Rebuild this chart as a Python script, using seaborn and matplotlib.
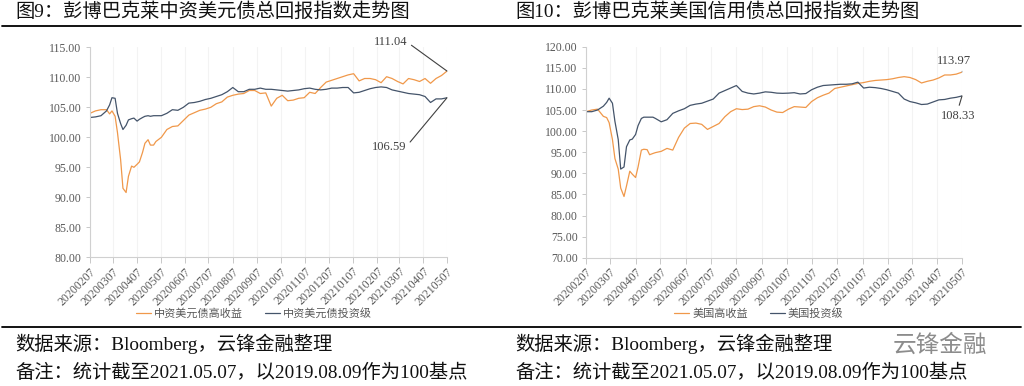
import matplotlib
matplotlib.use("Agg")
import matplotlib.pyplot as plt
import matplotlib.dates as mdates
from matplotlib.lines import Line2D
import seaborn as sns
import pandas as pd

# ---------------- data ----------------
weekly = pd.date_range("2020-02-07", "2021-05-07", freq="7D")
extra = pd.date_range("2020-03-03", "2020-04-28", freq="7D")
dates = weekly.union(extra)

cn_hy = [104.0, 104.4, 104.6, 104.6, 103.9, 104.4, 103.5, 100.8, 96.3, 91.5, 90.8, 93.5,
         95.2, 95.0, 95.5, 95.9, 97.5, 99.0, 99.6, 98.7, 98.7, 99.3,
         100.0, 101.3, 101.8, 101.9, 102.8, 103.7, 104.1, 104.5, 104.7, 105.0,
         105.6, 105.9, 106.7, 107.0, 107.2, 107.3, 107.8, 107.8, 107.3, 107.4,
         105.2, 106.5, 107.0, 106.1, 106.2, 106.5, 106.6, 107.5, 107.3, 108.3,
         109.2, 109.5, 109.8, 110.1, 110.4, 110.6, 109.4, 109.8, 109.8, 109.6,
         109.1, 110.1, 109.8, 109.3, 108.9, 109.8, 109.6, 109.3, 109.8, 109.0,
         109.8, 110.3, 111.04]
cn_ig = [103.3, 103.4, 103.6, 104.4, 105.4, 106.6, 106.5, 104.0, 102.3, 101.3, 102.0, 102.9,
         103.1, 103.2, 102.7, 103.0, 103.3, 103.5, 103.6, 103.5, 103.6, 103.6,
         103.6, 104.0, 104.6, 104.5, 105.0, 105.7, 105.8, 106.0, 106.3, 106.5,
         106.8, 107.1, 107.6, 108.3, 107.6, 107.6, 108.0, 108.0, 108.2, 108.0,
         108.0, 107.9, 107.8, 107.7, 107.8, 107.9, 108.1, 108.2, 108.0, 107.9,
         108.0, 108.2, 108.2, 108.3, 108.3, 107.4, 107.5, 107.8, 108.1, 108.3,
         108.4, 108.3, 107.9, 107.7, 107.5, 107.3, 107.2, 107.1, 106.8, 105.8,
         106.4, 106.4, 106.59]
us_hy = [104.6, 105.0, 105.2, 103.5, 103.2, 102.0, 98.0, 93.5, 91.0, 86.5, 84.5, 87.0,
         90.5, 89.8, 89.0, 91.5, 95.5, 95.7, 95.6, 94.4, 94.7, 94.9,
         95.2, 95.9, 95.5, 98.5, 100.7, 101.8, 101.9, 101.6, 100.4, 101.1,
         101.8, 103.4, 104.6, 105.3, 105.1, 105.2, 105.8, 106.0, 105.7, 105.0,
         104.5, 104.4, 105.2, 105.8, 105.7, 105.6, 107.0, 107.9, 108.5, 109.0,
         110.1, 110.4, 110.7, 111.0, 111.3, 111.5, 111.8, 112.0, 112.1, 112.2,
         112.4, 112.7, 112.9, 112.7, 112.2, 111.4, 111.8, 112.1, 112.6, 113.3,
         113.3, 113.5, 113.97]
us_ig = [104.6, 104.6, 105.0, 105.9, 106.8, 107.8, 106.6, 102.3, 98.0, 91.0, 91.5, 96.3,
         97.9, 98.1, 99.2, 101.3, 103.0, 103.3, 103.3, 103.3, 103.3, 103.0,
         102.2, 102.7, 104.2, 104.8, 105.3, 106.1, 106.4, 106.6, 107.1, 107.6,
         109.0, 109.6, 110.2, 110.8, 109.4, 109.0, 108.8, 109.0, 109.3, 109.2,
         109.0, 108.95, 109.0, 109.1, 108.8, 108.9, 109.8, 110.4, 110.8, 110.9,
         111.0, 111.1, 111.1, 111.2, 111.6, 110.2, 110.4, 110.3, 110.1, 109.8,
         109.4, 109.0, 107.6, 107.0, 106.7, 106.3, 106.4, 106.9, 107.4, 107.5,
         107.8, 108.0, 108.33]

left_names = ["中资美元债高收益", "中资美元债投资级"]
right_names = ["美国高收益", "美国投资级"]
left_title = "图9：彭博巴克莱中资美元债总回报指数走势图"
right_title = "图10：彭博巴克莱美国信用债总回报指数走势图"
source_text = "数据来源：Bloomberg，云锋金融整理"
note_text = "备注：统计截至2021.05.07，以2019.08.09作为100基点"
tick_dates = pd.date_range("2020-02-01", "2021-05-07", freq="MS") + pd.Timedelta(days=6)

ORANGE = "#F0984A"
BLUE = "#44546A"

# ---------------- style ----------------
sns.set_theme(style="white")
plt.rcParams["font.family"] = ["Liberation Serif", "Noto Sans CJK SC"]
plt.rcParams["axes.unicode_minus"] = False

fig = plt.figure(figsize=(10.24, 3.86), dpi=100)
W, H = 1024, 386


def fx(px):
    return px / W


def fy(py):
    return 1 - py / H


ax1 = fig.add_axes([fx(90), fy(257.3), fx(447) - fx(90), fy(47.3) - fy(257.3)])
ax2 = fig.add_axes([fx(586), fy(257.7), fx(962) - fx(586), fy(46.7) - fy(257.7)])


def make_df(a, b, names):
    return pd.concat([
        pd.DataFrame({"date": dates, "value": a, "series": names[0]}),
        pd.DataFrame({"date": dates, "value": b, "series": names[1]}),
    ], ignore_index=True)


def style_axis(ax, ylo, yhi, step, legx):
    ax.set_xlim(dates[0], dates[-1])
    ax.set_ylim(ylo, yhi)
    ax.set_yticks([ylo + i * step for i in range(int(round((yhi - ylo) / step)) + 1)])
    ax.yaxis.set_major_formatter(matplotlib.ticker.FormatStrFormatter("%.2f"))
    ax.set_xticks(tick_dates)
    ax.xaxis.set_major_formatter(mdates.DateFormatter("%Y%m%d"))
    ax.tick_params(axis="y", labelsize=8.5, length=3, width=0.6,
                   direction="out", left=True, pad=3)
    ax.tick_params(axis="x", labelsize=8.5, length=4, width=0.6,
                   direction="out", bottom=True, pad=2)
    for lab in ax.get_xticklabels():
        lab.set_rotation(45)
        lab.set_ha("right")
        lab.set_va("top")
        lab.set_rotation_mode("anchor")
    for lab in ax.get_yticklabels() + ax.get_xticklabels():
        lab.set_color("#595959")
    ax.tick_params(axis="both", color="#bfbfbf")
    for s in ["top", "right"]:
        ax.spines[s].set_visible(False)
    for s in ["left", "bottom"]:
        ax.spines[s].set_color("#d0d0d0")
        ax.spines[s].set_linewidth(0.8)
    ax.grid(axis="x", color="#f3f3f3", lw=0.8)
    ax.set_xlabel("")
    ax.set_ylabel("")
    sns.move_legend(ax, "center", bbox_to_anchor=(legx, -0.265), ncol=2, frameon=False,
                    title=None, fontsize=8, handlelength=1.3, handletextpad=0.3,
                    columnspacing=2.0, labelcolor="#595959")


df1 = make_df(cn_hy, cn_ig, left_names)
sns.lineplot(data=df1, x="date", y="value", hue="series", palette=[ORANGE, BLUE],
             linewidth=0.9, ax=ax1)
style_axis(ax1, 80, 115, 5, 0.46)

df2 = make_df(us_hy, us_ig, right_names)
sns.lineplot(data=df2, x="date", y="value", hue="series", palette=[ORANGE, BLUE],
             linewidth=0.9, ax=ax2)
style_axis(ax2, 70, 120, 5, 0.46)

# ---------------- annotations ----------------
ann_kw = dict(fontsize=9, color="#404040", annotation_clip=False)
ax1.annotate(f"{cn_hy[-1]:.2f}", xy=(dates[-1], cn_hy[-1]), xytext=(0.888, 1.025),
             textcoords="axes fraction", ha="right", va="center",
             arrowprops=dict(arrowstyle="-", color="#404040", lw=0.8, relpos=(1, 0.5),
                             shrinkA=1, shrinkB=0), **ann_kw)
ax1.annotate(f"{cn_ig[-1]:.2f}", xy=(dates[-1], cn_ig[-1]), xytext=(0.885, 0.525),
             textcoords="axes fraction", ha="right", va="center",
             arrowprops=dict(arrowstyle="-", color="#404040", lw=0.8, relpos=(1, 0.5),
                             shrinkA=1, shrinkB=0), **ann_kw)
ax2.annotate(f"{us_hy[-1]:.2f}", xy=(dates[-1], us_hy[-1]), xytext=(0.979, 0.934),
             textcoords="axes fraction", ha="center", va="center",
             arrowprops=dict(arrowstyle="-", color="#b0b0b0", lw=0.8, relpos=(0.75, 0),
                             shrinkA=1, shrinkB=0), **ann_kw)
ax2.annotate(f"{us_ig[-1]:.2f}", xy=(dates[-1], us_ig[-1]), xytext=(0.989, 0.672),
             textcoords="axes fraction", ha="center", va="center",
             arrowprops=dict(arrowstyle="-", color="#404040", lw=0.8, relpos=(0.5, 1),
                             shrinkA=1, shrinkB=0), **ann_kw)

# ---------------- titles, rules, footer ----------------
FS = 13.9
fig.text(fx(15), fy(12), left_title, fontsize=FS, color="#111111", va="center", ha="left")
fig.text(fx(515), fy(12), right_title, fontsize=FS, color="#111111", va="center", ha="left")
fig.add_artist(Line2D([fx(2), fx(1021)], [fy(25.5), fy(25.5)], color="black", lw=1.3,
                      transform=fig.transFigure))
fig.add_artist(Line2D([fx(2), fx(1021)], [fy(327), fy(327)], color="black", lw=1.3,
                      transform=fig.transFigure))
for x0 in (15, 515):
    fig.text(fx(x0), fy(344), source_text, fontsize=FS, color="#111111", va="center", ha="left")
    fig.text(fx(x0), fy(373), note_text, fontsize=FS, color="#111111", va="center", ha="left")
fig.text(fx(893), fy(345), "云锋金融", fontsize=17, color="#8c8c8c", va="center", ha="left",
         family=["Noto Sans CJK SC"])

fig.savefig("out.png", dpi=100)
